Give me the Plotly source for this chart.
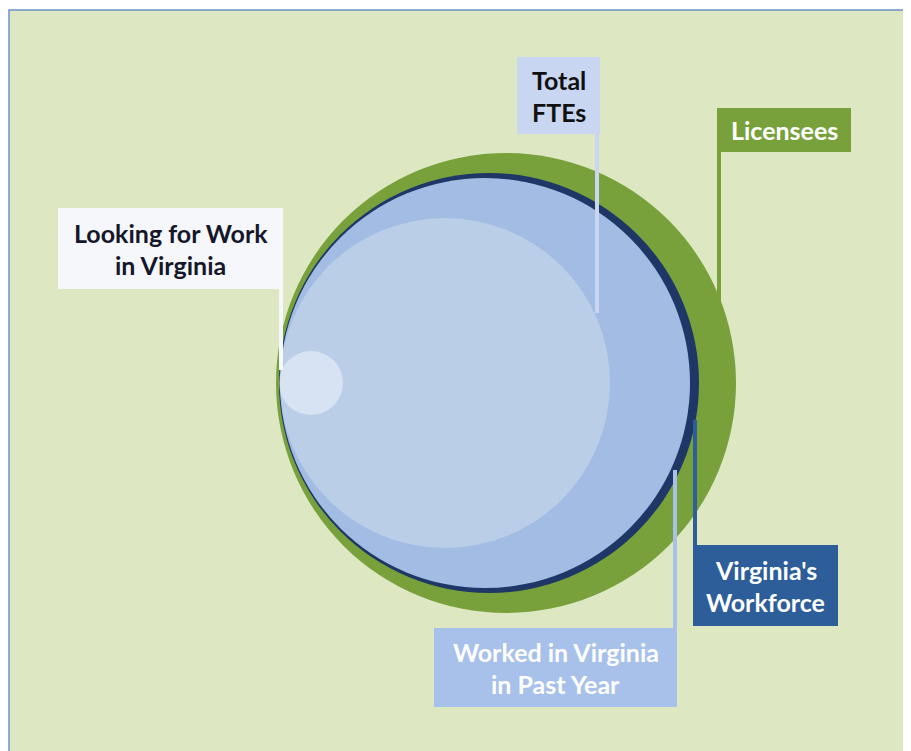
import plotly.graph_objects as go

# ---- data ----
categories = ["Licensees", "Virginia's Workforce", "Worked in Virginia in Past Year",
              "Total FTEs", "Looking for Work in Virginia"]
radii = [230, 210, 205, 165, 32]          # relative circle sizes (px at this scale)
fills = ["#78a13c", "#1e3766", "#a2bce3", "#bacee8", "rgba(255,255,255,0.42)"]

label_lines = [["Licensees"], ["Virginia's", "Workforce"], ["Worked in Virginia", "in Past Year"],
               ["Total", "FTEs"], ["Looking for Work", "in Virginia"]]

W, H = 911, 751
OFF = 8  # default page body margin
left_x = [276, 279, 280, 280, 279]
cy = 383

fig = go.Figure()
fig.add_trace(go.Scatter(x=[0, W], y=[0, H], mode="markers", marker=dict(opacity=0),
                         hoverinfo="skip", showlegend=False))

shapes = []
# frame / background
shapes.append(dict(type="rect", x0=9, y0=10, x1=905, y1=H + 5, xref="x", yref="y",
                   fillcolor="#dde8c3", line=dict(color="#6f90c8", width=1.5), layer="below"))

# circles, all tangent at the left
for r, lx, col in zip(radii, left_x, fills):
    cx = lx + r
    shapes.append(dict(type="circle", xref="x", yref="y", x0=cx - r, x1=cx + r,
                       y0=cy - r, y1=cy + r, fillcolor=col, line=dict(width=0), layer="above"))

# label boxes: (x0, y0, x1, y1, fill, text colour, leader x, leader y0, leader y1, leader colour)
boxes = [
    (717, 108, 851, 152, "#78a13c", "white", 719, 150, 320, "#78a13c"),
    (693, 545, 838, 626, "#2d5e99", "white", 695, 420, 547, "#2d5e99"),
    (434, 628, 677, 707, "#a8c1ea", "white", 675, 470, 630, "#a8c1ea"),
    (517, 57, 600, 134, "#c9d6f2", "#111111", 597, 130, 313, "#c9d6f2"),
    (58, 208, 283, 289, "#f5f7fb", "#15172a", 281, 286, 370, "#f5f7fb"),
]
annotations = []
for (x0, y0, x1, y1, bg, tc, lx, ly0, ly1, lc), lines in zip(boxes, label_lines):
    shapes.append(dict(type="line", xref="x", yref="y", x0=lx, x1=lx, y0=ly0, y1=ly1,
                       line=dict(color=lc, width=4), layer="above"))
    shapes.append(dict(type="rect", xref="x", yref="y", x0=x0, x1=x1, y0=y0, y1=y1,
                       fillcolor=bg, line=dict(width=0), layer="above"))
    n = len(lines)
    mid = (y0 + y1) / 2
    step = 32
    for i, t in enumerate(lines):
        yy = mid + (i - (n - 1) / 2) * step
        annotations.append(dict(x=(x0 + x1) / 2, y=yy, xref="x", yref="y", text="<b>" + t + "</b>",
                                showarrow=False, font=dict(family="Lato", size=25, color=tc),
                                xanchor="center", yanchor="middle"))

fig.update_layout(
    width=W - OFF, height=H - OFF, margin=dict(l=0, r=0, t=0, b=0),
    paper_bgcolor="white", plot_bgcolor="white",
    xaxis=dict(range=[OFF, W], visible=False, fixedrange=True),
    yaxis=dict(range=[H, OFF], visible=False, fixedrange=True),
    shapes=shapes, annotations=annotations, showlegend=False,
)
fig.write_html("out.html")
